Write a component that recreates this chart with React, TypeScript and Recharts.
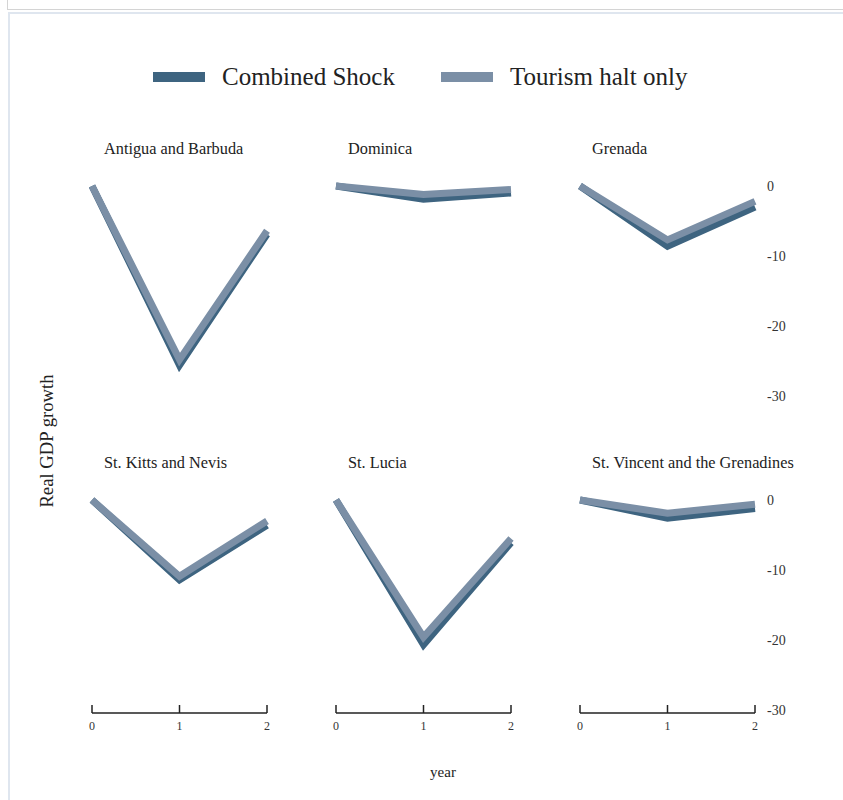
import React from "react";
import { LineChart, Line, XAxis, YAxis } from "recharts";

// Years since the shock
const years = [0, 1, 2];

// Real GDP growth paths (%), one pair per country
const antiguaCombined = [0, -25.6, -6.9];
const antiguaTourism = [0, -24.8, -6.4];
const dominicaCombined = [0, -1.9, -1.0];
const dominicaTourism = [0, -1.2, -0.5];
const grenadaCombined = [0, -8.6, -3.0];
const grenadaTourism = [0, -7.7, -2.2];
const kittsCombined = [0, -11.4, -3.6];
const kittsTourism = [0, -10.9, -3.0];
const luciaCombined = [0, -20.7, -6.1];
const luciaTourism = [0, -19.6, -5.5];
const vincentCombined = [0, -2.6, -1.2];
const vincentTourism = [0, -1.9, -0.6];

const countries = [
  "Antigua and Barbuda",
  "Dominica",
  "Grenada",
  "St. Kitts and Nevis",
  "St. Lucia",
  "St. Vincent and the Grenadines",
];
const combinedSeries = [antiguaCombined, dominicaCombined, grenadaCombined, kittsCombined, luciaCombined, vincentCombined];
const tourismSeries = [antiguaTourism, dominicaTourism, grenadaTourism, kittsTourism, luciaTourism, vincentTourism];

const seriesNames = ["Combined Shock", "Tourism halt only"];
const yTicks = [0, -10, -20, -30];

const DARK = "#3e6480";
const LIGHT = "#7b8fa6";
const FONT = "'Liberation Serif', 'DejaVu Serif', serif";

// plot-area geometry
const colX = [92, 336, 580];
const rowTop = [186, 500];
const PLOT_W = 175;
const PLOT_H = 213;
const PAD = 20;
const X_AXIS_H = 30;

const XTick = (props: any) => {
  const { x, y, payload } = props;
  return (
    <g>
      <line x1={x} y1={y} x2={x} y2={y - 8} stroke="#222" strokeWidth={1.5} />
      <text x={x} y={y + 17} textAnchor="middle" fontSize={12} fontFamily={FONT} fill="#333">
        {payload.value}
      </text>
    </g>
  );
};

function Panel({ idx }: { idx: number }) {
  const col = idx % 3;
  const row = Math.floor(idx / 3);
  const data = years.map((yr, i) => ({
    year: yr,
    combined: combinedSeries[idx][i],
    tourism: tourismSeries[idx][i],
  }));
  const showX = row === 1;
  const showY = col === 2;
  const yAxisW = showY ? 50 : 0;
  const width = PAD + PLOT_W + yAxisW + PAD;
  const height = PAD + PLOT_H + X_AXIS_H + 10;
  return (
    <div style={{ position: "absolute", left: colX[col] - PAD, top: rowTop[row] - PAD }}>
      <LineChart
        width={width}
        height={height}
        data={data}
        margin={{ top: PAD, left: PAD, right: PAD, bottom: showX ? 10 : 10 + X_AXIS_H }}
      >
        <XAxis
          dataKey="year"
          type="number"
          domain={[0, 2]}
          ticks={years}
          hide={!showX}
          height={X_AXIS_H}
          axisLine={{ stroke: "#222", strokeWidth: 1.5 }}
          tickLine={false}
          tickSize={0}
          tickMargin={0}
          tick={<XTick />}
        />
        <YAxis
          type="number"
          domain={[-30.43, 0]}
          ticks={yTicks}
          orientation="right"
          hide={!showY}
          width={yAxisW}
          axisLine={false}
          tickLine={false}
          tickSize={6}
          tickMargin={6}
          tick={{ fontSize: 14, fontFamily: FONT, fill: "#333", textAnchor: "start" }}
        />
        <Line
          type="linear"
          dataKey="combined"
          stroke={DARK}
          strokeWidth={7}
          dot={false}
          isAnimationActive={false}
        />
        <Line
          type="linear"
          dataKey="tourism"
          stroke={LIGHT}
          strokeWidth={7}
          dot={false}
          isAnimationActive={false}
        />
      </LineChart>
      <div
        style={{
          position: "absolute",
          left: PAD + 12,
          top: -27,
          height: 20,
          lineHeight: "20px",
          fontFamily: FONT,
          fontSize: 16.3,
          color: "#222",
          whiteSpace: "nowrap",
        }}
      >
        {countries[idx]}
      </div>
    </div>
  );
}

export default function App() {
  return (
    <div style={{ position: "absolute", left: 0, top: 0, width: 843, height: 800, overflow: "hidden", background: "#fff" }}>
      <div style={{ position: "absolute", left: 7, top: -10, width: 900, height: 18, border: "1px solid #d4d4d4" }} />
      <div style={{ position: "absolute", left: 8, top: 12, width: 900, height: 900, border: "2px solid #dfe6ef" }} />

      {/* legend */}
      {seriesNames.map((name, i) => (
        <div
          key={name}
          style={{
            position: "absolute",
            left: [153, 441][i],
            top: 62,
            height: 30,
            lineHeight: "30px",
            display: "flex",
            alignItems: "center",
            fontFamily: FONT,
            fontSize: 25,
            color: "#222",
            whiteSpace: "nowrap",
          }}
        >
          <span style={{ display: "inline-block", width: 52, height: 10, background: i === 0 ? DARK : LIGHT, marginRight: 17 }} />
          {name}
        </div>
      ))}

      {countries.map((_, i) => (
        <Panel key={i} idx={i} />
      ))}

      <div
        style={{
          position: "absolute",
          left: 47,
          top: 441,
          transform: "translate(-50%, -50%) rotate(-90deg)",
          fontFamily: FONT,
          fontSize: 18.7,
          color: "#222",
          whiteSpace: "nowrap",
        }}
      >
        Real GDP growth
      </div>
      <div
        style={{
          position: "absolute",
          left: 443,
          top: 772,
          transform: "translate(-50%, -50%)",
          fontFamily: FONT,
          fontSize: 15,
          color: "#222",
        }}
      >
        year
      </div>
    </div>
  );
}
